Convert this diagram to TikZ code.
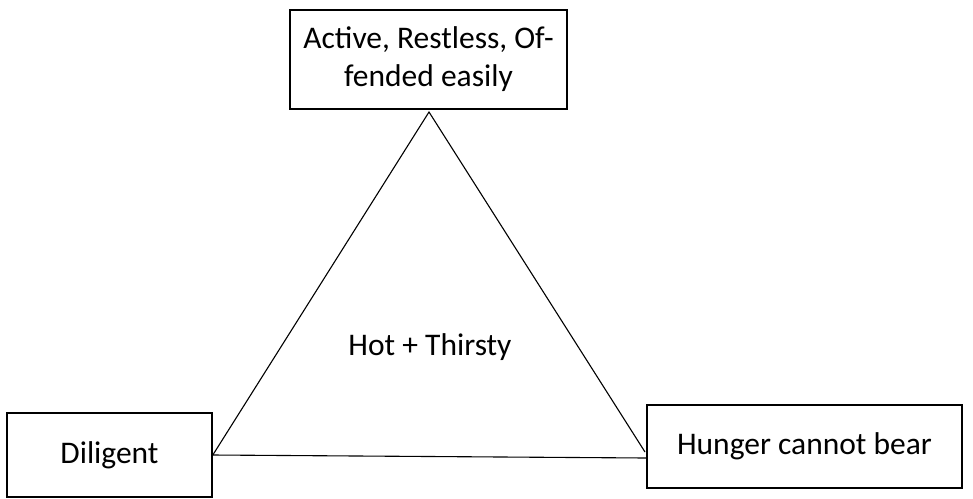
\documentclass[tikz,border=0pt]{standalone}
\usepackage{fontspec}
\setmainfont{Carlito}
\tikzset{trait/.style={draw, line width=1.6pt, inner sep=0pt, align=center,
  font=\fontsize{31.5}{38}\selectfont}}
\begin{document}
\begin{tikzpicture}[x=1pt,y=-1pt]
\useasboundingbox (0,0) rectangle (973,498);
  \node[trait, minimum width=277pt, minimum height=99pt] (active) at (428.5,59.5) {Active, Restless, Of-\\fended easily};
  \node[trait, minimum width=205pt, minimum height=84pt] (dilig) at (109.5,455) {Diligent};
  \node[trait, minimum width=315pt, minimum height=83pt] (hunger) at (804.5,446.5) {Hunger cannot bear};
  \coordinate (apex) at (429,112);
  \coordinate (rvert) at (645,452);
  \draw[line width=1.1pt] (dilig.east) -- (apex) -- (rvert);
  \draw[line width=1.1pt] (dilig.east) -- (hunger.west |- 0,458);
  \node[font=\fontsize{31.5}{38}\selectfont] (heat) at (430,347) {Hot + Thirsty};
\end{tikzpicture}
\end{document}
